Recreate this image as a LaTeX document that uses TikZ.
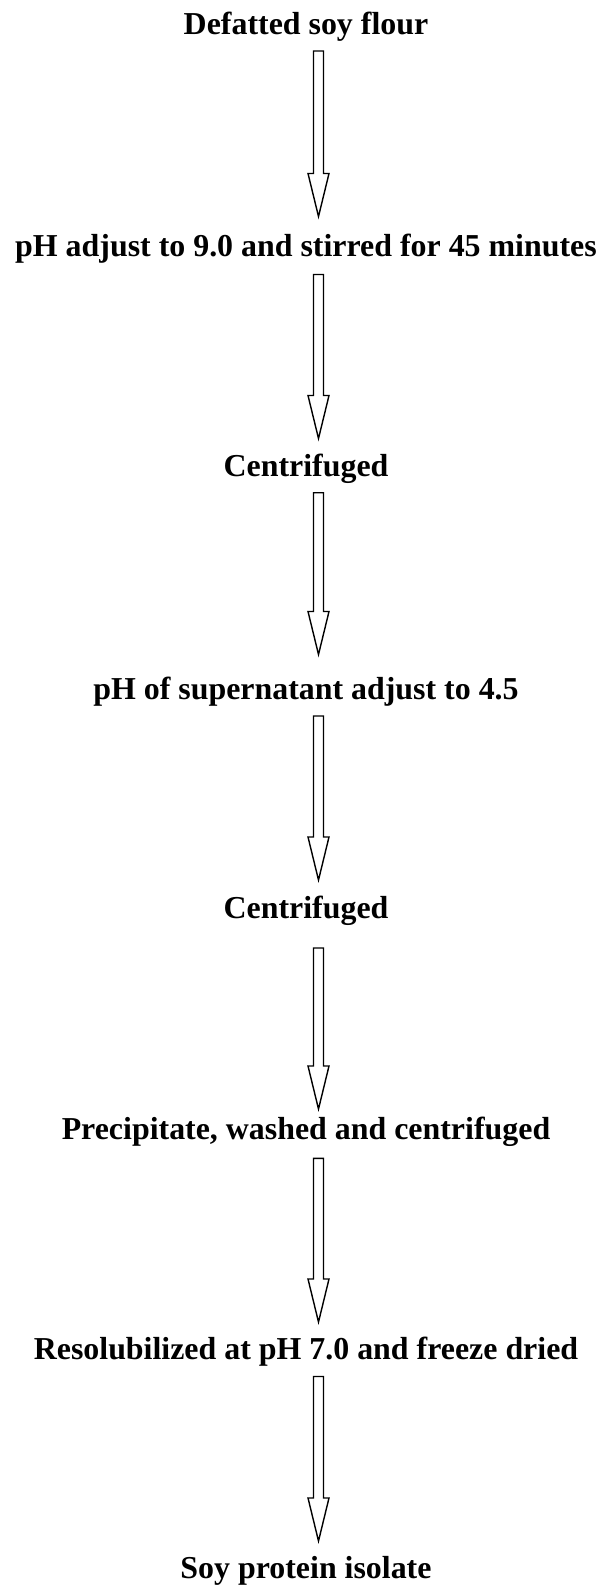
\documentclass[tikz,border=0pt]{standalone}
\usepackage{fontspec}
\setmainfont{Liberation Serif}
\usetikzlibrary{calc}

\tikzset{
  steplabel/.style={anchor=base, inner sep=0pt,
    font=\fontsize{31.9}{38}\selectfont\bfseries},
  hollowarrow/.style={draw=black, fill=white, line width=1.4pt, line join=miter},
}

% Hollow block arrow pointing down from coordinate #1 to tip #2
\newcommand\downblockarrow[2]{%
  \draw[hollowarrow]
    ($(#1)+(-5,0)$) -- ($(#1)+(5,0)$) -- ($(#2)+(5,43)$) -- ($(#2)+(10.5,43)$)
    -- (#2) -- ($(#2)+(-10.5,43)$) -- ($(#2)+(-5,43)$) -- cycle;}

\begin{document}
\begin{tikzpicture}[x=1pt, y=1pt]
  \useasboundingbox (0,0) rectangle (603,-1586);

  % process steps
  \node[steplabel] (t1) at (306,-34.5)   {Defatted soy flour};
  \node[steplabel] (t2) at (306,-256.5)  {pH adjust to 9.0 and stirred for 45 minutes};
  \node[steplabel] (t3) at (306,-476.5)  {Centrifuged};
  \node[steplabel] (t4) at (306,-699.5)  {pH of supernatant adjust to 4.5};
  \node[steplabel] (t5) at (306,-918.5)  {Centrifuged};
  \node[steplabel] (t6) at (306,-1139.5) {Precipitate, washed and centrifuged};
  \node[steplabel] (t7) at (306,-1359.5) {Resolubilized at pH 7.0 and freeze dried};
  \node[steplabel] (t8) at (306,-1578.5) {Soy protein isolate};

  % arrow ends
  \coordinate (s1) at (318.5,-51);     \coordinate (e1) at (318.5,-216.5);
  \coordinate (s2) at (318.5,-274.5);  \coordinate (e2) at (318.5,-438.5);
  \coordinate (s3) at (318.5,-492.7);  \coordinate (e3) at (318.5,-654.5);
  \coordinate (s4) at (318.5,-716);    \coordinate (e4) at (318.5,-880);
  \coordinate (s5) at (318.5,-948);    \coordinate (e5) at (318.5,-1109);
  \coordinate (s6) at (318.5,-1158.3); \coordinate (e6) at (318.5,-1322);
  \coordinate (s7) at (318.5,-1376.5); \coordinate (e7) at (318.5,-1541);

  \downblockarrow{s1}{e1}
  \downblockarrow{s2}{e2}
  \downblockarrow{s3}{e3}
  \downblockarrow{s4}{e4}
  \downblockarrow{s5}{e5}
  \downblockarrow{s6}{e6}
  \downblockarrow{s7}{e7}
\end{tikzpicture}
\end{document}
